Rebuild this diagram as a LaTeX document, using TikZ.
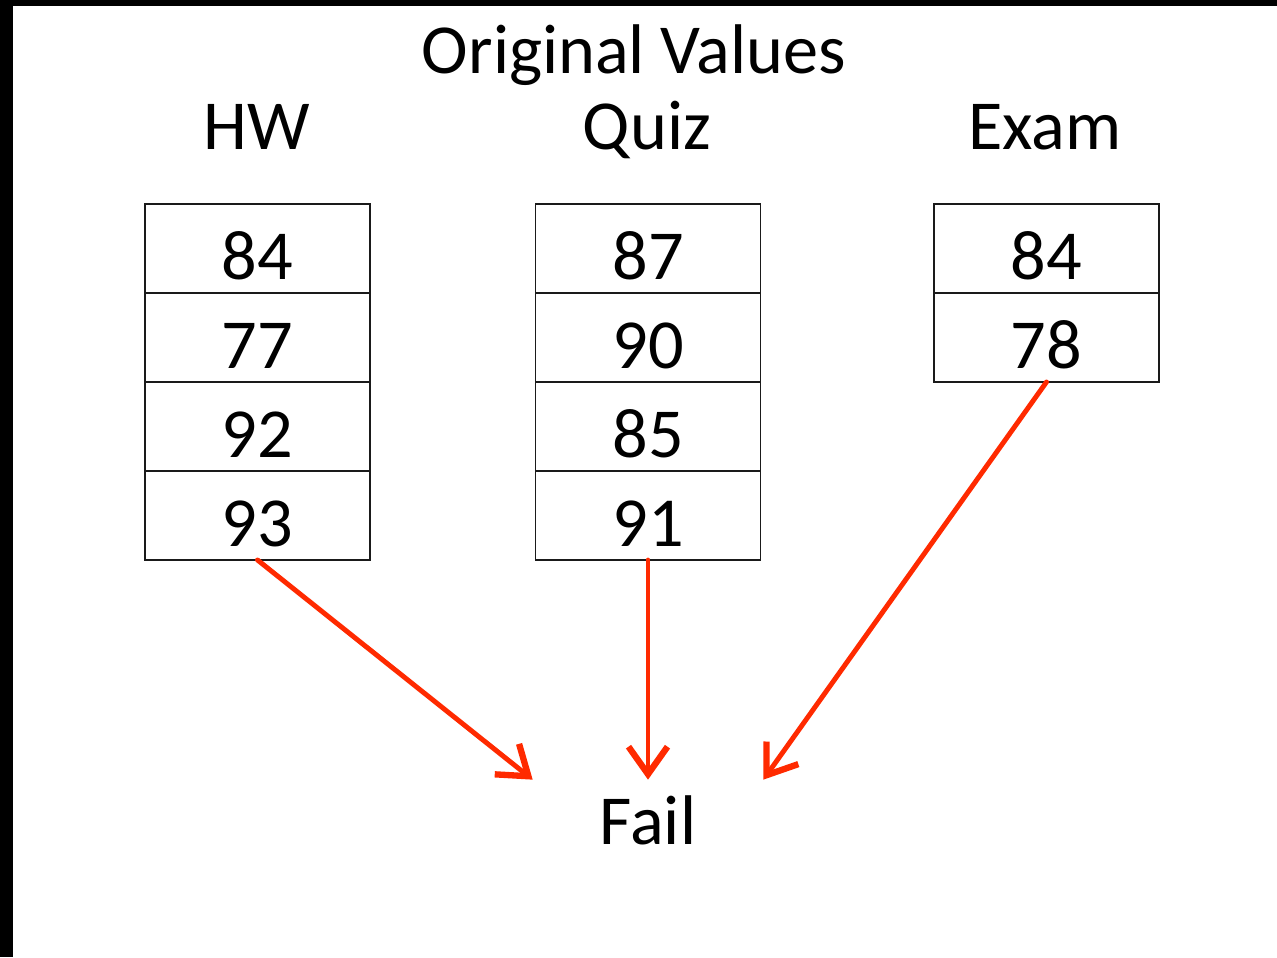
\documentclass[tikz,border=0pt]{standalone}
\usepackage{fontspec}
\setmainfont{Carlito}
\usepackage{xcolor}
\definecolor{rougevif}{HTML}{FF2A00}
\definecolor{traitgris}{HTML}{1A1A1A}
\usepackage{tikz}
\usetikzlibrary{positioning,arrows.meta}

\begin{document}
\begin{tikzpicture}[x=0.02cm,y=0.02cm,
  titre/.style={font=\fontsize{40}{48}\selectfont,anchor=base,inner sep=0pt},
  entete/.style={font=\fontsize{40}{48}\selectfont,anchor=base,inner sep=0pt},
  case/.style={draw=traitgris,line width=0.8pt,minimum width=4.5cm,minimum height=1.78cm,inner sep=0pt,outer sep=0pt,text height=1.26cm,text depth=0pt,font=\fontsize{40}{48}\selectfont},
  fl/.style={-{Straight Barb[length=0.55cm,width=0.78cm,line width=3.6pt]},rougevif,line width=2.8pt,line cap=round,line join=round}
]
% fond et bords
\fill[black] (0,0) rectangle (1277,957);
\fill[white] (13,0) rectangle (1277,951);
% en-tetes
\node[titre] (titre) at (634,883) {Original Values};
\node[entete] (thw) at (257,807) {HW};
\node[entete] (tqz) at (647,807) {Quiz};
\node[entete] (tex) at (1045,807) {Exam};
% colonne HW
\node[case] (hw1) at (257.5,708.5) {84};
\node[case] (hw2) at (257.5,619.5) {77};
\node[case] (hw3) at (257.5,530.5) {92};
\node[case] (hw4) at (257.5,441.5) {93};
% colonne Quiz
\node[case] (qz1) at (648,708.5) {87};
\node[case] (qz2) at (648,619.5) {90};
\node[case] (qz3) at (648,530.5) {85};
\node[case] (qz4) at (648,441.5) {91};
% colonne Exam
\node[case] (ex1) at (1046.5,708.5) {84};
\node[case] (ex2) at (1046.5,619.5) {78};
% resultat
\node[minimum width=4.6cm,minimum height=1.72cm,inner sep=0pt,text height=0.88cm,text depth=0pt,font=\fontsize{40}{48}\selectfont] (fail) at (648,134) {Fail};
% fleches
\draw[fl] (hw4.south) -- (fail.north west);
\draw[fl] (qz4.south) -- (fail.north);
\draw[fl] (ex2.south) -- (fail.north east);
\end{tikzpicture}
\end{document}
